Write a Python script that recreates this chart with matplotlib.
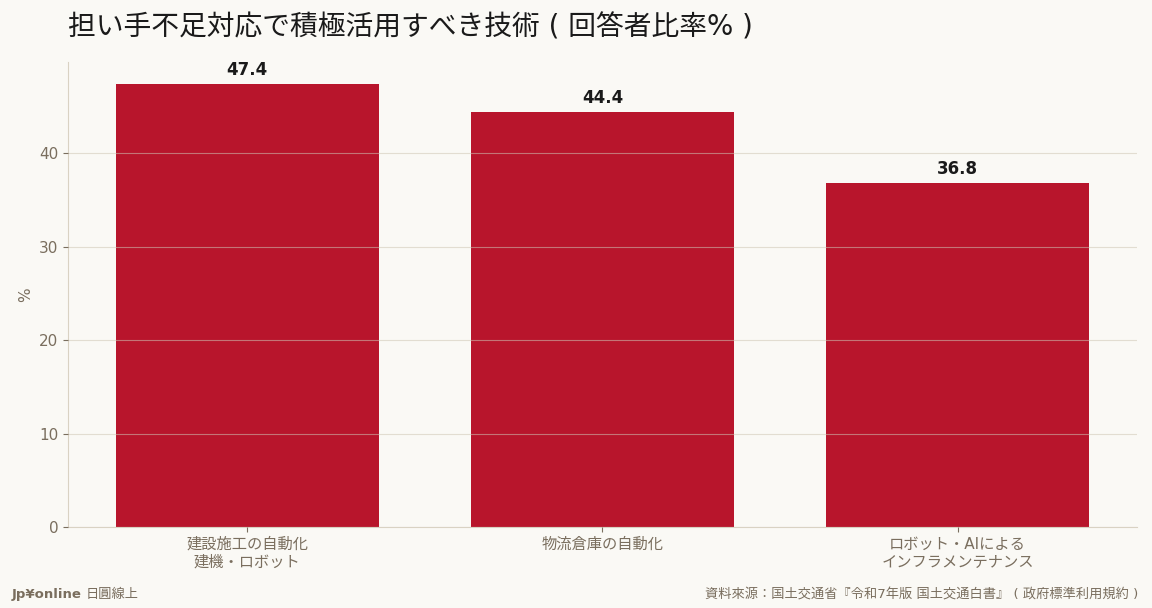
import matplotlib
matplotlib.use('Agg')
import matplotlib.pyplot as plt

plt.rcParams['font.family'] = ['DejaVu Sans', 'Noto Sans CJK JP']

# data
categories = ['建設施工の自動化\n建機・ロボット', '物流倉庫の自動化', 'ロボット・AIによる\nインフラメンテナンス']
values = [47.4, 44.4, 36.8]
yticks = [0, 10, 20, 30, 40]

bg = '#FAF9F5'
bar_color = '#B8152C'
tick_color = '#7A6E5E'
spine_color = '#D9D2C3'

fig = plt.figure(figsize=(11.52, 6.08), dpi=100, facecolor=bg)
ax = fig.add_axes([0.059, 0.133, 0.928, 0.765], facecolor=bg)

x = list(range(len(categories)))
ax.bar(x, values, width=0.74, color=bar_color, zorder=2)

# labels on bars
for xi, v in zip(x, values):
    ax.text(xi, v + 0.6, f'{v:.1f}', ha='center', va='bottom',
            fontsize=12, fontweight='bold', color='#1A1A1A')

ax.set_xlim(-0.505, 2.505)
ax.set_ylim(0, max(values) * 1.05)
ax.set_xticks(x)
ax.set_xticklabels(categories, fontsize=11, color=tick_color, linespacing=1.22)
ax.set_yticks(yticks)
ax.tick_params(axis='y', labelsize=11, colors=tick_color)
ax.tick_params(axis='x', colors=tick_color, pad=3.5)
ax.set_ylabel('%', fontsize=11, color=tick_color)

ax.grid(axis='y', color='#CFC6B5', alpha=0.55, linewidth=0.8, zorder=3)
ax.set_axisbelow(False)

for s in ['top', 'right']:
    ax.spines[s].set_visible(False)
for s in ['left', 'bottom']:
    ax.spines[s].set_color(spine_color)

fig.text(0.059, 0.955, '担い手不足対応で積極活用すべき技術 ( 回答者比率% )',
         fontsize=20, color='#1A1A1A', ha='left', va='center')

fig.text(0.010, 0.022, 'Jp¥online', fontsize=9.5, fontweight='bold',
         color=tick_color, ha='left', va='center')
fig.text(0.0745, 0.022, '日圓線上', fontsize=9.5, color=tick_color,
         ha='left', va='center')
fig.text(0.988, 0.022, '資料來源：国土交通省『令和7年版 国土交通白書』 ( 政府標準利用規約 )',
         fontsize=9.5, color=tick_color, ha='right', va='center')

fig.savefig('out.png', dpi=100, facecolor=bg)
